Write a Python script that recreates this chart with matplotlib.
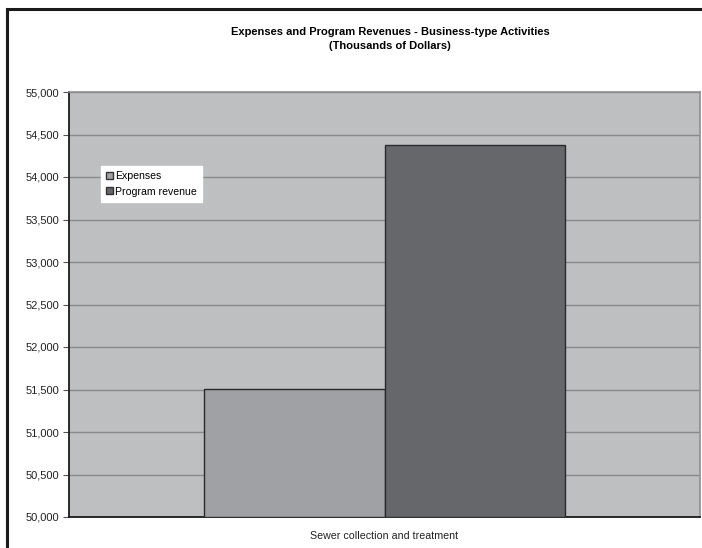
import matplotlib.pyplot as plt
from matplotlib.patches import Rectangle
from matplotlib.ticker import FuncFormatter

plt.rcParams['font.family'] = ['Liberation Sans', 'DejaVu Sans']

# data (thousands of dollars)
category = ['Sewer collection and treatment']
series = ['Expenses', 'Program revenue']
values = [51510, 54376]
colors = ['#a0a1a5', '#66676b']

fig = plt.figure(figsize=(7.02, 5.48), dpi=100)
ax = fig.add_axes([69 / 702, 1 - 517 / 548, 631 / 702, 425 / 548])
ax.set_facecolor('#bebfc1')

w = 0.286
for i, (name, v, c) in enumerate(zip(series, values, colors)):
    ax.bar(0 + (i - 0.5) * w, v - 50000, bottom=50000, width=w, color=c,
           edgecolor='#2a2a2a', linewidth=1.0, label=name, zorder=3)

ax.set_xlim(-0.5, 0.5)
ax.set_ylim(50000, 55000)
ax.set_yticks(range(50000, 55001, 500))
ax.yaxis.set_major_formatter(FuncFormatter(lambda v, p: f'{int(v):,}'))
ax.set_xticks([0])
ax.set_xticklabels(category)
ax.tick_params(axis='y', labelsize=8, length=4, color='#555555', pad=3,
               labelcolor='#222222')
ax.tick_params(axis='x', labelsize=7.7, length=0, pad=10, labelcolor='#222222')
ax.grid(axis='y', color='#8a8a8a', linewidth=1.0, zorder=1)

for s in ['top', 'right']:
    ax.spines[s].set_color('#8f8f8f')
    ax.spines[s].set_linewidth(1.2)
for s in ['left', 'bottom']:
    ax.spines[s].set_color('#1a1a1a')
    ax.spines[s].set_linewidth(1.3)

leg = ax.legend(loc='upper left', bbox_to_anchor=(0.0507, 0.826), fontsize=7.6,
                frameon=True, fancybox=False, handlelength=0.6, handleheight=0.6,
                handletextpad=0.2, borderpad=0.5, labelspacing=0.5,
                borderaxespad=0)
leg.get_frame().set_edgecolor('white')
leg.get_frame().set_facecolor('white')
leg.get_frame().set_alpha(1)
for h in leg.legend_handles:
    h.set_edgecolor('#333333')

fig.text(390 / 702, 1 - 32 / 548, 'Expenses and Program Revenues - Business-type Activities',
         ha='center', va='center', fontsize=8, fontweight='bold')
fig.text(390 / 702, 1 - 46 / 548, '(Thousands of Dollars)',
         ha='center', va='center', fontsize=8, fontweight='bold')

# outer frame
fig.patches.append(Rectangle((6.5 / 702, -0.5), 2, 0.5 + 1 - 8.5 / 548,
                             transform=fig.transFigure, fill=False,
                             edgecolor='#1a1a1a', linewidth=2.2))

fig.savefig('out.png', dpi=100)
